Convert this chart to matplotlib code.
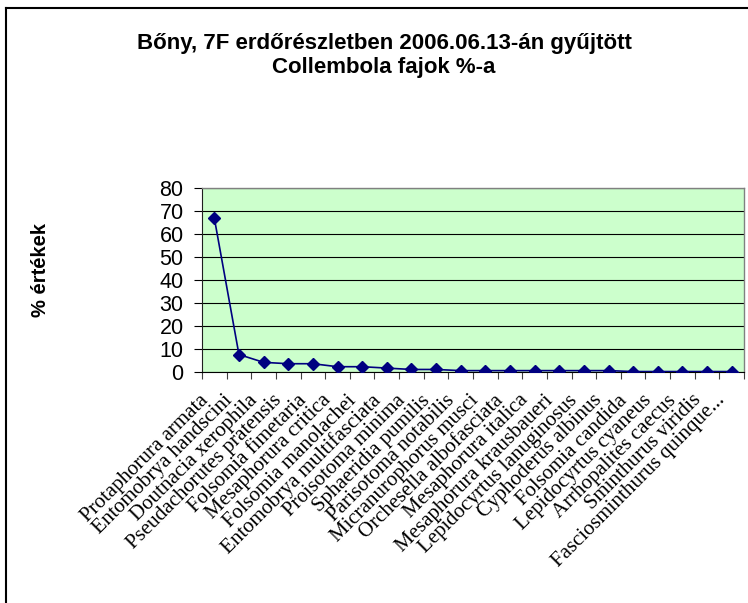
import matplotlib
matplotlib.use('Agg')
import matplotlib.pyplot as plt
from matplotlib.lines import Line2D
from matplotlib.ticker import FixedLocator
import matplotlib.transforms as mtransforms

species = [
    'Protaphorura armata', 'Entomobrya handscini', 'Doutnacia xerophila',
    'Pseudachorutes pratensis', 'Folsomia fimetaria', 'Mesaphorura critica',
    'Folsomia manolachei', 'Entomobrya multifasciata', 'Proisotoma minima',
    'Sphaeridia pumilis', 'Parisotoma notabilis', 'Micranurophorus musci',
    'Orchesella albofasciata', 'Mesaphorura italica', 'Mesaphorura krausbaueri',
    'Lepidocyrtus lanuginosus', 'Cyphoderus albinus', 'Folsomia candida',
    'Lepidocyrtus cyaneus', 'Arrhopalites caecus', 'Sminthurus viridis',
    'Fasciosminthurus quinque...',
]
percent = [66.9, 7.6, 4.2, 3.6, 3.6, 2.3, 2.3, 1.7, 1.1, 1.1, 0.6,
           0.6, 0.6, 0.6, 0.6, 0.6, 0.6, 0.2, 0.2, 0.2, 0.2, 0.2]
yticks = [0, 10, 20, 30, 40, 50, 60, 70, 80]

plt.rcParams['font.family'] = ['Liberation Sans', 'DejaVu Sans']

W, H = 748, 603
fig = plt.figure(figsize=(W / 100, H / 100), dpi=100)
ax = fig.add_axes([202 / W, 1 - 372 / H, (744 - 202) / W, (372 - 188) / H])
ax.set_facecolor('#CCFFCC')

x = list(range(len(species)))
ax.plot(x, percent, color='#000080', lw=1.2, marker='D', markersize=6.5,
        markerfacecolor='#000080', markeredgecolor='#000080', zorder=3)

ax.set_xlim(-0.5, len(species) - 0.5)
ax.set_ylim(0, 80)
ax.set_yticks(yticks)
ax.yaxis.grid(True, color='black', lw=0.8)
ax.set_axisbelow(True)
ax.tick_params(axis='y', direction='out', length=5.8, width=0.8, pad=7.5,
               labelsize=15.5, colors='black')

ax.set_xticks(x)
ax.set_xticklabels(species, rotation=45, ha='right', va='center',
                   rotation_mode='anchor', fontfamily='Liberation Serif', fontsize=15)
ax.tick_params(axis='x', which='major', length=0, pad=18.5)
ax.xaxis.set_minor_locator(FixedLocator([i - 0.5 for i in range(len(species) + 1)]))
ax.tick_params(axis='x', which='minor', direction='out', length=4.8, width=0.8, color='#404040')
shift = mtransforms.ScaledTranslation(-9 / 100, 0, fig.dpi_scale_trans)
for lab in ax.get_xticklabels():
    lab.set_transform(lab.get_transform() + shift)

for side in ['top', 'right']:
    ax.spines[side].set_color('#808080')
    ax.spines[side].set_linewidth(1.0)
ax.spines['left'].set_color('#202020')
ax.spines['bottom'].set_color('black')
ax.spines['left'].set_linewidth(0.8)
ax.spines['bottom'].set_linewidth(0.8)

fig.text(384 / W, 1 - 33 / H, 'Bőny, 7F erdőrészletben 2006.06.13-án gyűjtött\nCollembola fajok %-a',
         ha='center', va='top', fontsize=16, fontweight='bold', linespacing=1.2)
fig.text(40 / W, 1 - 270 / H, '% értékek', rotation=90, ha='center', va='center',
         fontsize=14.5, fontweight='bold')

# outer chart border (only top and left visible in the crop)
fig.add_artist(Line2D([6 / W, 6 / W], [0, 1 - 8 / H], transform=fig.transFigure,
                      color='black', lw=1.5))
fig.add_artist(Line2D([6 / W, 1], [1 - 8 / H, 1 - 8 / H], transform=fig.transFigure,
                      color='black', lw=1.5))

fig.savefig('out.png', dpi=100)
